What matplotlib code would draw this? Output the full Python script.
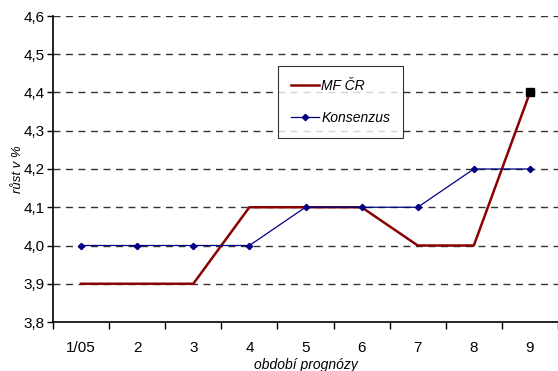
import matplotlib.pyplot as plt
import numpy as np
from matplotlib.ticker import FuncFormatter, FixedLocator

plt.rcParams['font.family'] = ['Liberation Sans', 'DejaVu Sans']

# data
categories = ['1/05', '2', '3', '4', '5', '6', '7', '8', '9']
mf_cr = [3.9, 3.9, 3.9, 4.1, 4.1, 4.1, 4.0, 4.0, 4.4]
konsenzus = [4.0, 4.0, 4.0, 4.0, 4.1, 4.1, 4.1, 4.2, 4.2]
yticks = [3.8, 3.9, 4.0, 4.1, 4.2, 4.3, 4.4, 4.5, 4.6]

fig = plt.figure(figsize=(5.58, 3.71), dpi=100)
ax = fig.add_axes([53/558, 1 - 322/371, 505/558, 306/371])

x = np.arange(len(categories))

# dashed grid
for v in yticks[1:]:
    ax.axhline(v, color='#333333', lw=1, ls=(0, (5, 4)), zorder=1)

ax.plot(x, mf_cr, color='#8B0000', lw=1.8, label='MF ČR', zorder=3)
ax.plot(x[-1:], mf_cr[-1:], marker='s', color='black', ms=6, ls='none', zorder=4)
ax.plot(x, konsenzus, color='#000080', lw=0.9, marker='D', ms=3.2,
        label='Konsenzus', zorder=4)

ax.set_xlim(-0.5, len(categories) - 0.5)
ax.set_ylim(3.8, 4.6)
ax.set_yticks(yticks)
ax.yaxis.set_major_formatter(FuncFormatter(lambda v, p: f'{v:.1f}'.replace('.', ',')))

ax.set_xticks(x)
ax.set_xticklabels(categories)
ax.xaxis.set_minor_locator(FixedLocator(np.arange(-0.5, len(categories), 1.0)))
ax.tick_params(axis='x', which='major', length=0, pad=14, labelsize=11)
ax.tick_params(axis='x', which='minor', length=5, width=1, direction='out')
ax.tick_params(axis='y', length=4, width=1, direction='out', labelsize=11, pad=2)

for s in ['top', 'right']:
    ax.spines[s].set_visible(False)
ax.spines['left'].set_linewidth(1.2)
ax.spines['bottom'].set_linewidth(1.2)

ax.set_ylabel('růst v %', fontsize=9.5, style='italic', labelpad=0)
ax.set_xlabel('období prognózy', fontsize=10, style='italic', labelpad=2)

leg = ax.legend(loc='upper left', bbox_to_anchor=(0.446, 0.835),
                prop={'style': 'italic', 'size': 10}, frameon=True, fancybox=False,
                edgecolor='black', handlelength=2.0, handletextpad=0.2,
                labelspacing=1.3, borderpad=0.9, borderaxespad=0)
leg.get_frame().set_linewidth(0.8)

fig.savefig('out.png', dpi=100)
